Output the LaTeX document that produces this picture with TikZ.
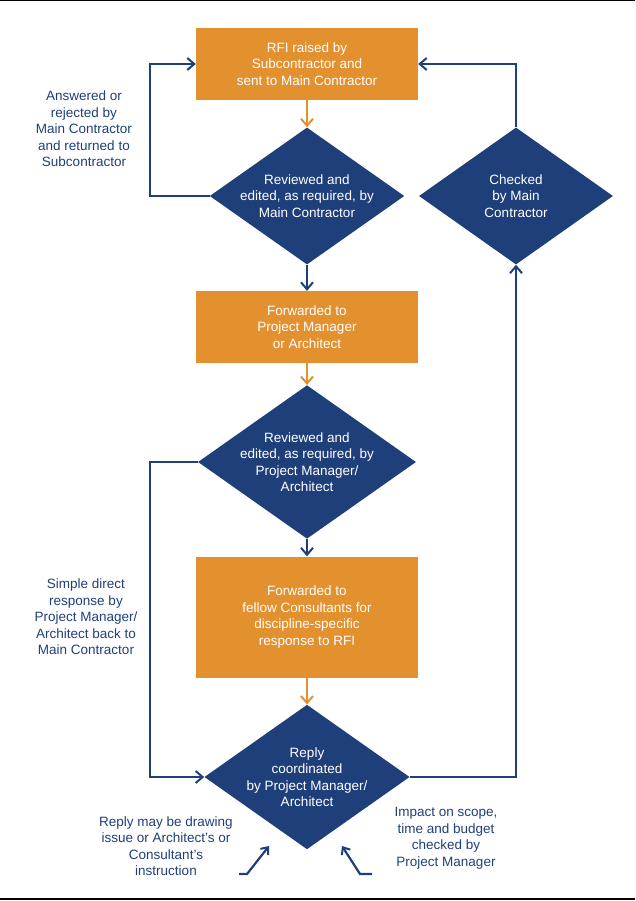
\documentclass[tikz,border=0pt]{standalone}
\usepackage{fontspec}
\setmainfont{Liberation Sans}
\usetikzlibrary{shapes.geometric,arrows.meta}
\definecolor{rfiorange}{HTML}{E3902F}
\definecolor{rfinavy}{HTML}{1F3F7A}
\tikzset{
        stage/.style={fill=rfiorange,text=white,minimum width=222pt,align=center,inner sep=0pt},
        check/.style={diamond,fill=rfinavy,text=white,align=center,minimum width=194pt,minimum height=137pt,inner sep=0pt,aspect=1.42},
        note/.style={text=rfinavy,align=center},
        navyline/.style={draw=rfinavy,line width=2.2pt,-{Straight Barb[length=7pt,width=12pt,line width=2pt]}},
        orangeline/.style={draw=rfiorange,line width=2.2pt,-{Straight Barb[length=7pt,width=12pt,line width=2pt]}}
}
\begin{document}
\begin{tikzpicture}[x=1pt,y=1pt,font=\fontsize{13.5}{16.5}\selectfont]
                        \useasboundingbox (0,0) rectangle (635,-901);
                        \draw[line width=1.5pt] (0,-0.75) -- (635,-0.75);
                        \draw[line width=1.5pt] (0,-899) -- (635,-899);

                        \node[stage,minimum height=72pt] (raised) at (307,-64) {RFI raised by\\Subcontractor and\\sent to Main Contractor};
                        \node[check] (mcreview) at (307,-196) {Reviewed and\\edited, as required, by\\Main Contractor};
                        \node[stage,minimum height=72pt] (forward) at (307,-327) {Forwarded to\\Project Manager\\or Architect};
                        \node[check] (pmreview) at (307,-462) {Reviewed and\\edited, as required, by\\Project Manager/\\Architect};
                        \node[stage,minimum height=121pt] (consult) at (307,-617) {Forwarded to\\fellow Consultants for\\discipline-specific\\response to RFI};
                        \node[check] (reply) at (307,-777) {Reply\\coordinated\\by Project Manager/\\Architect};
                        \node[check] (mccheck) at (516,-196) {Checked\\by Main\\Contractor};

                        \node[note] (answered) at (84,-129) {Answered or\\rejected by\\Main Contractor\\and returned to\\Subcontractor};
                        \node[note] (simple) at (86,-617) {Simple direct\\response by\\Project Manager/\\Architect back to\\Main Contractor};
                        \node[note] (drawing) at (166,-846) {Reply may be drawing\\issue or Architect’s or\\Consultant’s\\instruction};
                        \node[note] (impact) at (446,-838) {Impact on scope,\\time and budget\\checked by\\Project Manager};

                        \draw[orangeline] (raised) -- (mcreview);
                        \draw[orangeline] (forward) -- (pmreview);
                        \draw[orangeline] (consult) -- (reply);
                        \draw[navyline] (mcreview) -- (forward);
                        \draw[navyline] (pmreview) -- (consult);

                        \draw[navyline] (mcreview.west) -| (150,-64) -- (raised.west);
                        \draw[navyline] (mccheck.north) |- (raised.east);
                        \draw[navyline] (pmreview.west) -| (150,-777) -- (reply.west);
                        \draw[navyline] (reply.east) -| (mccheck.south);

                        \coordinate (drawtip) at (269,-846);
                        \coordinate (impacttip) at (342,-846);
                        \draw[navyline,-{Straight Barb[length=6pt,width=10pt,line width=2pt]}] (239,-874) -- (247,-874) -- (drawtip);
                        \draw[navyline,-{Straight Barb[length=6pt,width=10pt,line width=2pt]}] (372,-874) -- (360,-874) -- (impacttip);
\end{tikzpicture}
\end{document}
